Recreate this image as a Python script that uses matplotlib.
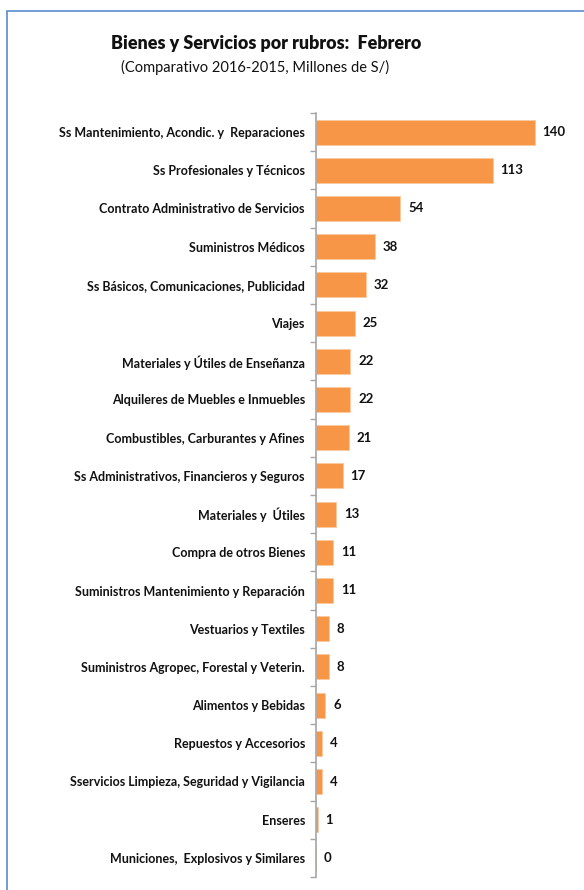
import matplotlib
matplotlib.use("Agg")
import matplotlib.pyplot as plt
from matplotlib.patches import Rectangle
import numpy as np

categories = [
    "Ss Mantenimiento, Acondic. y  Reparaciones",
    "Ss Profesionales y Técnicos",
    "Contrato Administrativo de Servicios",
    "Suministros Médicos",
    "Ss Básicos, Comunicaciones, Publicidad",
    "Viajes",
    "Materiales y Útiles de Enseñanza",
    "Alquileres de Muebles e Inmuebles",
    "Combustibles, Carburantes y Afines",
    "Ss Administrativos, Financieros y Seguros",
    "Materiales y  Útiles",
    "Compra de otros Bienes",
    "Suministros Mantenimiento y Reparación",
    "Vestuarios y Textiles",
    "Suministros Agropec, Forestal y Veterin.",
    "Alimentos y Bebidas",
    "Repuestos y Accesorios",
    "Sservicios Limpieza, Seguridad y Vigilancia",
    "Enseres",
    "Municiones,  Explosivos y Similares",
]
values = [140, 113, 54, 38, 32, 25, 22, 22, 21, 17, 13, 11, 11, 8, 8, 6, 4, 4, 1, 0]

title = "Bienes y Servicios por rubros:  Febrero"
subtitle = "(Comparativo 2016-2015, Millones de S/)"

plt.rcParams['font.family'] = ['Lato', 'DejaVu Sans']

fig = plt.figure(figsize=(5.84, 8.9), dpi=100)
fig.patch.set_facecolor("white")

# border
fig.add_artist(Rectangle((6.5/584, -0.05), 1.2, 1 - 10.5/890 + 0.05,
                         transform=fig.transFigure, fill=False,
                         edgecolor="#5a8ad2", linewidth=1.2))

ax = fig.add_axes([316/584, 1 - 877/890, (578 - 316)/584, (877 - 113)/890])
n = len(categories)
y = np.arange(n)
ax.barh(y, values, height=0.65, color="#F79646", edgecolor="#fbc9a0", linewidth=0.6)
ax.set_ylim(n - 0.5, -0.5)
ax.set_xlim(0, 167.5)

ax.set_yticks(y)
ax.set_yticklabels(categories, fontsize=9, fontweight="bold", color="#111111")
ax.tick_params(axis="y", which="major", length=0, pad=8)
ax.set_yticks(np.arange(-0.5, n, 1.0), minor=True)
ax.tick_params(axis="y", which="minor", length=4, width=1, color="#a6a6a6", direction="out")
ax.set_xticks([])
for s in ["top", "right", "bottom"]:
    ax.spines[s].set_visible(False)
ax.spines["left"].set_color("#a6a6a6")
ax.spines["left"].set_linewidth(1.2)
ax.set_facecolor("none")

for yi, v in zip(y, values):
    ax.annotate(f"{v}", xy=(v, yi), xytext=(5.5, 0), textcoords="offset points",
                ha="left", va="center", fontsize=9.5, fontweight="bold", color="#111111")

fig.text(0.5 * (113 + 420) / 584, 1 - 44/890, title, ha="center", va="center",
         fontsize=12.9, fontweight="heavy", color="#111111")
fig.text(0.5 * (120 + 390) / 584, 1 - 67/890, subtitle, ha="center", va="center",
         fontsize=10.5, color="#111111")

fig.savefig("out.png", dpi=100)
